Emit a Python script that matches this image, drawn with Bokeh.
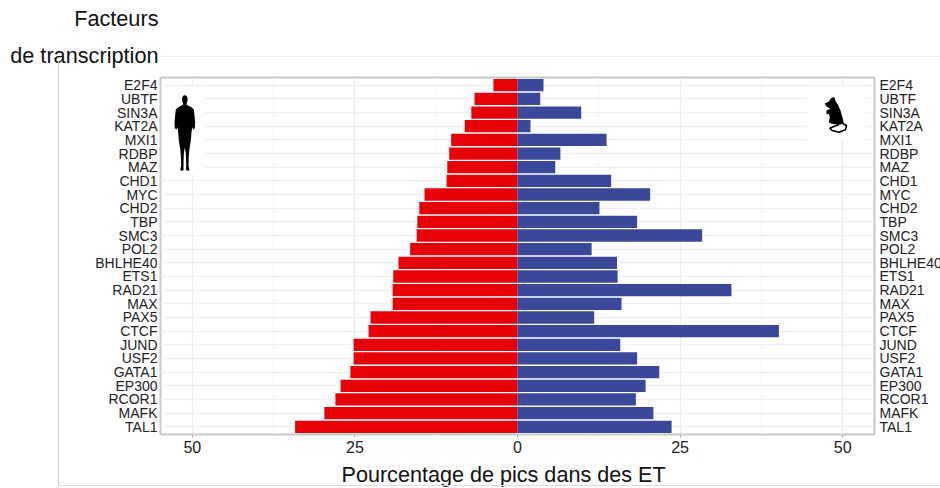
from bokeh.plotting import figure
from bokeh.embed import file_html
from bokeh.resources import INLINE
from bokeh.models import Range1d, FixedTicker, LinearAxis, Title

# top of the chart first
factors = ["E2F4","UBTF","SIN3A","KAT2A","MXI1","RDBP","MAZ","CHD1","MYC","CHD2","TBP","SMC3","POL2",
           "BHLHE40","ETS1","RAD21","MAX","PAX5","CTCF","JUND","USF2","GATA1","EP300","RCOR1","MAFK","TAL1"]
human = [3.7,6.6,7.1,8.1,10.2,10.5,10.8,10.9,14.3,15.1,15.4,15.5,16.5,
         18.3,19.1,19.2,19.2,22.6,22.9,25.2,25.2,25.7,27.2,28.0,29.7,34.2]
mouse = [4.0,3.5,9.8,2.0,13.7,6.6,5.8,14.4,20.4,12.6,18.4,28.4,11.4,
         15.3,15.4,32.9,16.0,11.8,40.2,15.8,18.4,21.8,19.7,18.2,20.9,23.7]
x_ticks = [-50,-25,0,25,50]
x_minor = [-37.5,-12.5,12.5,37.5]
x_labels = {-50:"50",-25:"25",0:"0",25:"25",50:"50"}
title_lines = ["Facteurs","de transcription"]
x_title = "Pourcentage de pics dans des ET"

ranks = list(range(len(factors), 0, -1))
rank_labels = dict(zip(ranks, factors))

FONT = "Liberation Sans"
PL, PR, PT, PB = 160, 874, 77, 434   # panel in page px

p = figure(frame_width=PR-PL, frame_height=PB-PT, output_backend="svg", toolbar_location=None,
           y_range=Range1d(0.435, 26.565), x_range=Range1d(-54.9,54.9),
           min_border_left=PL, min_border_right=940-PR, min_border_top=PT, min_border_bottom=488-PB,
           outline_line_color="#c8c8c8", outline_line_width=2, background_fill_color="white")
p.extra_x_ranges["px"] = Range1d(PL, PR)
p.extra_y_ranges["px"] = Range1d(PB, PT)
PX = dict(x_range_name="px", y_range_name="px")

# outer frame lines around the chart
p.stylesheets = [""":host::before { content: ""; position: absolute; z-index: 5; pointer-events: none;
  left: 58px; top: 61px; width: 882px; height: 425px; box-sizing: border-box;
  border-left: 1px solid #c8c8c8; border-bottom: 1px solid #dddddd; }
:host::after { content: ""; position: absolute; z-index: 5; pointer-events: none;
  left: 160px; top: 56px; width: 780px; height: 1px; background: #eeeeee; }"""]

# grid
p.xgrid.ticker = FixedTicker(ticks=x_ticks, minor_ticks=x_minor)
p.xgrid.grid_line_color = "#ededed"
p.xgrid.minor_grid_line_color = "#f5f5f5"
p.ygrid.ticker = FixedTicker(ticks=ranks)
p.ygrid.grid_line_color = "#f0f0f0"
p.xgrid.grid_line_width = 1.4
p.ygrid.grid_line_width = 1.4

# bars
p.hbar(y=ranks, right=0, left=[-v for v in human], height=0.9, color="#E60008", line_color=None)
p.hbar(y=ranks, left=0, right=mouse, height=0.9, color="#3B4799", line_color=None)

# axes
ax = p.xaxis[0]
ax.ticker = FixedTicker(ticks=x_ticks)
ax.major_label_overrides = x_labels
ax.axis_line_color = None
ax.major_tick_line_color = "#b0b0b0"
ax.major_tick_out = 3; ax.major_tick_in = 0
ax.minor_tick_line_color = None
ax.major_label_text_font = FONT
ax.major_label_text_font_size = "16px"
ax.major_label_text_color = "#222222"
ax.major_label_standoff = 3

def style_y(a, standoff):
    a.ticker = FixedTicker(ticks=ranks)
    a.major_label_overrides = rank_labels
    a.axis_line_color = None
    a.major_tick_line_color = None
    a.minor_tick_line_color = None
    a.major_tick_out = 0; a.major_tick_in = 0
    a.major_label_text_font = FONT
    a.major_label_text_font_size = "14px"
    a.major_label_text_color = "#222222"
    a.major_label_standoff = standoff
style_y(p.yaxis[0], 3)
right = LinearAxis()
style_y(right, 5)
p.add_layout(right, "right")

# silhouettes (decor, page px)
def px(points):
    return [a for a, _ in points], [b for _, b in points]

p.quad(left=162, right=205, top=86, bottom=174, color="white", line_color=None, **PX)
p.quad(left=807, right=865, top=86, bottom=140, color="white", line_color=None, **PX)

half = [(0,29),(5,31),(8,37),(8,46),(6,52),(5,58),(20,65),(27,72),(29,90),(31,110),(30,128),(25,132),(22,125),
        (20,140),(18,165),(14,190),(12,210),(11,240),(14,255),(4,255),(4,235),(3,205),(0,185)]
pts = [(73+dx, yy) for dx, yy in half] + [(73-dx, yy) for dx, yy in half[::-1]]
hx, hy = px([(160+a/3, 85+b/3) for a, b in pts])
p.patch(hx, hy, color="black", line_color=None, **PX)

ms = [(42,40),(55,33),(63,22),(72,20),(75,32),(82,42),(90,60),(97,85),(100,100),(85,103),(62,100),(55,95),
      (58,80),(55,70),(48,72),(48,60),(60,55),(48,48)]
mx, my = px([(810+a/3, 90+b/3) for a, b in ms])
p.patch(mx, my, color="black", line_color=None, **PX)
tail = [(85,103),(70,108),(58,113),(65,120),(85,125),(105,118),(108,105),(98,100)]
tx, ty = px([(810+a/3, 90+b/3) for a, b in tail])
p.line(tx, ty, color="black", line_width=1.6, **PX)

# titles
def title(txt, loc, standoff, size, **kw):
    t = Title(text=txt, text_font=FONT, text_font_size=size, text_font_style="normal",
              text_color="#111111", standoff=standoff, **kw)
    p.add_layout(t, loc)

title(title_lines[1], "above", 20, "21.7px", align="right", offset=PR-158)
title(title_lines[0], "above", 0, "21.7px", align="right", offset=PR-158, text_line_height=0.84)
title(x_title, "below", 9, "21.6px", align="left", offset=341-PL)

open("out.html","w").write(file_html(p, INLINE))
